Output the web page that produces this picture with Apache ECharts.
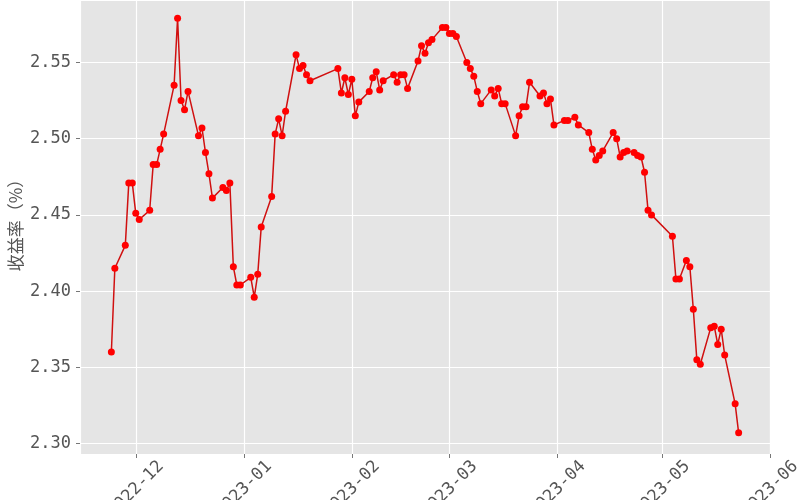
<!DOCTYPE html>
<html>
<head>
<meta charset="utf-8">
<script src="https://cdn.jsdelivr.net/npm/echarts@6/dist/echarts.min.js"></script>
<style>
html,body{margin:0;padding:0;background:#fff;}
#chart{width:800px;height:500px;}
</style>
</head>
<body>
<div id="chart"></div>
<script>
const dates = [
'2022-11-24','2022-11-25','2022-11-28','2022-11-29','2022-11-30','2022-12-01','2022-12-02',
'2022-12-05','2022-12-06','2022-12-07','2022-12-08','2022-12-09',
'2022-12-12','2022-12-13','2022-12-14','2022-12-15','2022-12-16',
'2022-12-19','2022-12-20','2022-12-21','2022-12-22','2022-12-23',
'2022-12-26','2022-12-27','2022-12-28','2022-12-29','2022-12-30','2022-12-31',
'2023-01-03','2023-01-04','2023-01-05','2023-01-06',
'2023-01-09','2023-01-10','2023-01-11','2023-01-12','2023-01-13',
'2023-01-16','2023-01-17','2023-01-18','2023-01-19','2023-01-20',
'2023-01-28','2023-01-29','2023-01-30','2023-01-31','2023-02-01','2023-02-02','2023-02-03',
'2023-02-06','2023-02-07','2023-02-08','2023-02-09','2023-02-10',
'2023-02-13','2023-02-14','2023-02-15','2023-02-16','2023-02-17',
'2023-02-20','2023-02-21','2023-02-22','2023-02-23','2023-02-24',
'2023-02-27','2023-02-28','2023-03-01','2023-03-02','2023-03-03',
'2023-03-06','2023-03-07','2023-03-08','2023-03-09','2023-03-10',
'2023-03-13','2023-03-14','2023-03-15','2023-03-16','2023-03-17',
'2023-03-20','2023-03-21','2023-03-22','2023-03-23','2023-03-24',
'2023-03-27','2023-03-28','2023-03-29','2023-03-30','2023-03-31',
'2023-04-03','2023-04-04','2023-04-06','2023-04-07',
'2023-04-10','2023-04-11','2023-04-12','2023-04-13','2023-04-14',
'2023-04-17','2023-04-18','2023-04-19','2023-04-20','2023-04-21',
'2023-04-23','2023-04-24','2023-04-25','2023-04-26','2023-04-27','2023-04-28',
'2023-05-04','2023-05-05','2023-05-06',
'2023-05-08','2023-05-09','2023-05-10','2023-05-11','2023-05-12',
'2023-05-15','2023-05-16','2023-05-17','2023-05-18','2023-05-19',
'2023-05-22','2023-05-23'
];
const yields = [
2.360,2.415,2.430,2.471,2.471,2.451,2.447,
2.453,2.483,2.483,2.493,2.503,
2.535,2.579,2.525,2.519,2.531,
2.502,2.507,2.491,2.477,2.461,
2.468,2.466,2.471,2.416,2.404,2.404,
2.409,2.396,2.411,2.442,
2.462,2.503,2.513,2.502,2.518,
2.555,2.546,2.548,2.542,2.538,
2.546,2.530,2.540,2.529,2.539,2.515,2.524,
2.531,2.540,2.544,2.532,2.538,
2.542,2.537,2.542,2.542,2.533,
2.551,2.561,2.556,2.563,2.565,
2.573,2.573,2.569,2.569,2.567,
2.550,2.546,2.541,2.531,2.523,
2.532,2.528,2.533,2.523,2.523,
2.502,2.515,2.521,2.521,2.537,
2.528,2.530,2.523,2.526,2.509,
2.512,2.512,2.514,2.509,
2.504,2.493,2.486,2.489,2.492,
2.504,2.500,2.488,2.491,2.492,
2.491,2.489,2.488,2.478,2.453,2.450,
2.436,2.408,2.408,
2.420,2.416,2.388,2.355,2.352,
2.376,2.377,2.365,2.375,2.358,
2.326,2.307
];
const yAxisName = '收益率（%）';
const xMin = '2022-11-15';
const xMax = '2023-06-01';
const yMin = 2.2931;
const yMax = 2.591;

const chart = echarts.init(document.getElementById('chart'), null, {renderer: 'canvas'});
const monoFont = '"DejaVu Sans Mono", "Liberation Mono", monospace';
chart.setOption({
  animation: false,
  backgroundColor: '#ffffff',
  grid: {
    left: 80, right: 30, top: 0, bottom: 46,
    outerBoundsMode: 'none',
    containLabel: false,
    show: true, backgroundColor: '#E5E5E5', borderWidth: 0
  },
  xAxis: {
    type: 'time',
    min: xMin,
    max: xMax,
    splitNumber: 7,
    axisLine: {show: false},
    axisTick: {show: true, length: 4, lineStyle: {color: '#777777', width: 1}},
    splitLine: {show: true, lineStyle: {color: '#ffffff', width: 1.2}},
    axisLabel: {
      show: true,
      formatter: '{yyyy}-{MM}',
      rotate: 45,
      align: 'center',
      verticalAlign: 'middle',
      margin: 35,
      color: '#555555',
      fontFamily: monoFont,
      fontSize: 17,
      showMinLabel: false,
      hideOverlap: false
    }
  },
  yAxis: {
    type: 'value',
    min: yMin,
    max: yMax,
    splitNumber: 5,
    name: yAxisName,
    nameLocation: 'middle',
    nameGap: 56,
    nameRotate: 90,
    nameMoveOverlap: false,
    nameTextStyle: {color: '#555555', fontSize: 17, padding: [0, 0, 0, 12], fontFamily: '"Noto Sans CJK JP", "Noto Sans CJK SC", sans-serif'},
    axisLine: {show: false},
    axisTick: {show: true, length: 4, lineStyle: {color: '#777777', width: 1}},
    splitLine: {show: true, lineStyle: {color: '#ffffff', width: 1.2}},
    axisLabel: {
      formatter: function (v) { return v.toFixed(2); },
      margin: 9,
      color: '#555555',
      fontFamily: monoFont,
      fontSize: 17,
      showMinLabel: false,
      showMaxLabel: false
    }
  },
  series: [{
    type: 'line',
    data: dates.map((d, i) => [d, yields[i]]),
    symbol: 'circle',
    symbolSize: 7,
    showAllSymbol: true,
    lineStyle: {color: '#D01010', width: 1.5},
    itemStyle: {color: '#FF0000', borderWidth: 0}
  }]
});
</script>
</body>
</html>
